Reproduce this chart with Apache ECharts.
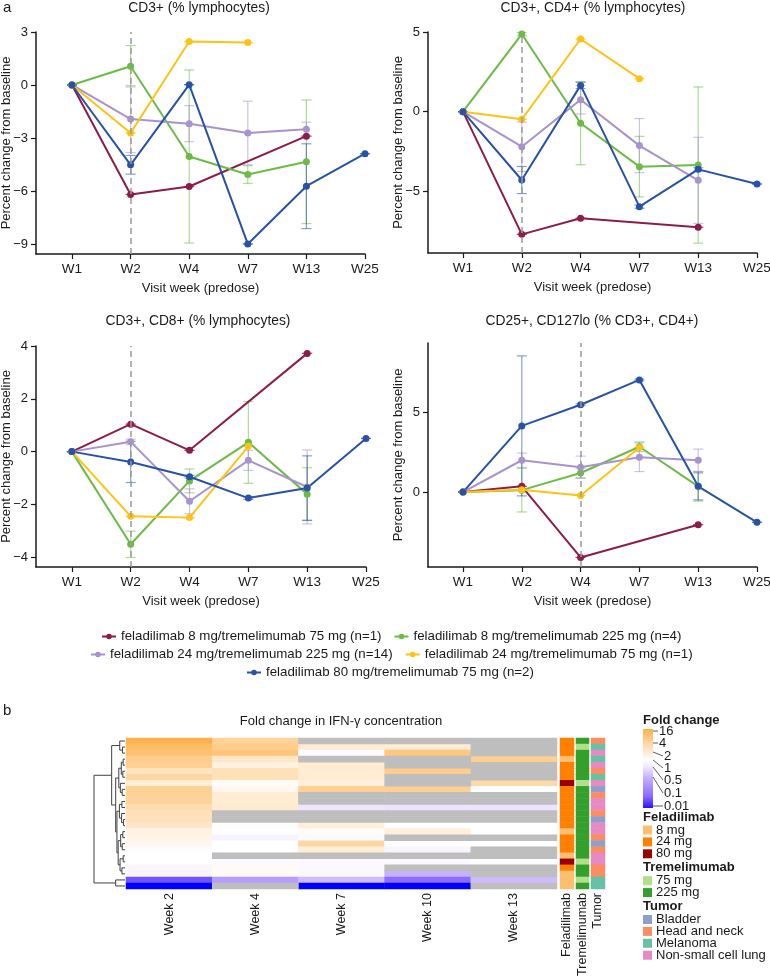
<!DOCTYPE html>
<html><head><meta charset="utf-8">
<script src="https://cdn.jsdelivr.net/npm/echarts@6/dist/echarts.min.js"></script>
<style>html,body{margin:0;padding:0;background:#fff}#c{width:770px;height:977px}</style>
</head><body><div id="c"></div>
<script>
// ---------------- DATA ----------------
const weeks = ['W1', 'W2', 'W4', 'W7', 'W13', 'W25'];
const groupNames = [
  'feladilimab 8 mg/tremelimumab 75 mg (n=1)',
  'feladilimab 8 mg/tremelimumab 225 mg (n=4)',
  'feladilimab 24 mg/tremelimumab 225 mg (n=14)',
  'feladilimab 24 mg/tremelimumab 75 mg (n=1)',
  'feladilimab 80 mg/tremelimumab 75 mg (n=2)'
];
const cd3Ticks = [-9, -6, -3, 0, 3];
const cd4Ticks = [-5, 0, 5];
const cd8Ticks = [-4, -2, 0, 2, 4];
const tregTicks = [0, 5];

// CD3+ (% lymphocytes): mean and error half-width
const cd3_f8t75 = [0, -6.2, -5.75, null, -2.9, null];
const cd3_f8t225 = [0, 1.06, -4.05, -5.07, -4.35, null];
const cd3_f24t225 = [0, -1.93, -2.19, -2.72, -2.51, null];
const cd3_f24t75 = [0, -2.72, 2.46, 2.4, null, null];
const cd3_f80t75 = [0, -4.52, 0.02, -9.0, -5.73, -3.89];
const cd3Err_f8t75 = [0, 0, 0, null, 0, null];
const cd3Err_f8t225 = [0, 1.17, 4.9, 0.5, 3.5, null];
const cd3Err_f24t225 = [0, 1.9, 1.02, 1.8, 0.4, null];
const cd3Err_f24t75 = [0, 0, 0, 0, null, null];
const cd3Err_f80t75 = [0, 0.53, 0, 0, 2.4, 0];

// CD3+, CD4+ (% lymphocytes)
const cd4_f8t75 = [0, -7.7, -6.69, null, -7.26, null];
const cd4_f8t225 = [0, 4.87, -0.73, -3.45, -3.35, null];
const cd4_f24t225 = [0, -2.2, 0.75, -2.13, -4.31, null];
const cd4_f24t75 = [0, -0.48, 4.56, 2.07, null, null];
const cd4_f80t75 = [0, -4.29, 1.65, -5.96, -3.62, -4.54];
const cd4Err_f8t75 = [0, 0, 0, null, 0, null];
const cd4Err_f8t225 = [0, 0.1, 2.6, 1.9, 4.9, null];
const cd4Err_f24t225 = [0, 1.55, 0.9, 1.7, 2.7, null];
const cd4Err_f24t75 = [0, 0, 0, 0, null, null];
const cd4Err_f80t75 = [0, 0.85, 0.2, 0.1, 0.1, 0];

// CD3+, CD8+ (% lymphocytes)
const cd8_f8t75 = [0, 1.04, 0.05, null, 3.72, null];
const cd8_f8t225 = [0, -3.51, -1.11, 0.35, -1.61, null];
const cd8_f24t225 = [0, 0.37, -1.88, -0.33, -1.34, null];
const cd8_f24t75 = [0, -2.45, -2.5, 0.2, null, null];
const cd8_f80t75 = [0, -0.39, -0.95, -1.76, -1.38, 0.5];
const cd8Err_f8t75 = [0, 0, 0, null, 0, null];
const cd8Err_f8t225 = [0, 0.5, 0.45, 1.55, 1.0, null];
const cd8Err_f24t225 = [0, 0.1, 0.47, 0.38, 1.4, null];
const cd8Err_f24t75 = [0, 0, 0, 0, null, null];
const cd8Err_f80t75 = [0, 0.78, 0.05, 0.05, 1.22, 0];

// CD25+, CD127lo (% CD3+, CD4+)
const treg_f8t75 = [0, 0.36, -4.11, null, -2.05, null];
const treg_f8t225 = [0, 0.12, 1.2, 2.85, 0.36, null];
const treg_f24t225 = [0, 2.0, 1.56, 2.19, 2.0, null];
const treg_f24t75 = [0, 0.15, -0.21, 2.8, null, null];
const treg_f80t75 = [0, 4.16, 5.49, 7.05, 0.36, -1.9];
const tregErr_f8t75 = [0, 0, 0, null, 0, null];
const tregErr_f8t225 = [0, 1.37, 0.3, 0.3, 0.93, null];
const tregErr_f24t225 = [0, 0.45, 0.7, 0.9, 0.7, null];
const tregErr_f24t75 = [0, 0, 0, 0, null, null];
const tregErr_f80t75 = [0, 4.4, 0.05, 0.05, 0.85, 0];

// Heatmap: fold change in IFN-gamma (rows top to bottom, null = not available)
const heatWeeks = ['Week 2', 'Week 4', 'Week 7', 'Week 10', 'Week 13'];
const fcWeek2 = [14, 9, 8, 5.3, 5, 2.5, 4, 1.85, 4.6, 4.6, 4.4, 3.2, 2.8, 2.7, 2.2, 1.5, 1.45, 1.3, 0.93, 1.0, 1.0, 0.78, 0.75, 0.04, 0.01];
const fcWeek4 = [4.5, 5.5, 7, 2.3, 1.6, 2.8, 2.8, 1.2, 1.25, 1.9, 1.9, 2.0, null, null, 0.92, 0.97, 0.7, 1.0, 1.0, null, 0.88, 1.2, 1.15, 0.12, null];
const fcWeek7 = [null, 1.9, 0.9, null, 1.9, 1.9, 1.9, 1.7, 4.8, null, null, 0.5, null, null, 1.7, 1.1, 0.88, 4.0, 1.8, null, 0.85, 0.85, 0.82, 0.2, 0.01];
const fcWeek10 = [null, 1.8, 6.5, null, null, 5.5, null, null, 5.0, null, null, 0.45, null, null, 1.0, 1.7, null, 1.0, 0.75, null, 0.85, null, 0.17, 0.06, 0.01];
const fcWeek13 = [null, null, null, 5.0, null, null, null, 3.5, 0.95, null, null, 0.45, null, null, 1.0, 1.0, null, 1.02, null, null, 0.92, null, null, 0.2, null];

const annotationNames = ['Feladilimab', 'Tremelimumab', 'Tumor'];
const feladilimabLevels = ['8 mg', '24 mg', '80 mg'];
const tremelimumabLevels = ['75 mg', '225 mg'];
const tumorTypes = ['Bladder', 'Head and neck', 'Melanoma', 'Non-small cell lung'];
const rowFeladilimab = ['24 mg','24 mg','24 mg','8 mg','24 mg','24 mg','24 mg','80 mg','24 mg','24 mg','24 mg','24 mg','24 mg','24 mg','24 mg','8 mg','24 mg','24 mg','24 mg','8 mg','80 mg','24 mg','8 mg','8 mg','8 mg'];
const rowTremelimumab = ['225 mg','75 mg','225 mg','225 mg','225 mg','225 mg','225 mg','75 mg','225 mg','225 mg','225 mg','225 mg','225 mg','225 mg','225 mg','225 mg','225 mg','225 mg','225 mg','225 mg','75 mg','225 mg','225 mg','75 mg','225 mg'];
const rowTumor = ['Head and neck','Melanoma','Non-small cell lung','Melanoma','Non-small cell lung','Head and neck','Melanoma','Non-small cell lung','Bladder','Head and neck','Non-small cell lung','Non-small cell lung','Head and neck','Bladder','Non-small cell lung','Non-small cell lung','Head and neck','Bladder','Head and neck','Non-small cell lung','Non-small cell lung','Head and neck','Head and neck','Melanoma','Melanoma'];
const foldTicks = ['16', '4', '2', '1', '0.5', '0.1', '0.01'];

// Row dendrogram: [height, left, right]; leaves are row indices
const dendrogram = [10,
  [4.3,
    [1.7, 0, [0.8, 1, 2]],
    [3.0,
      [2.0, [1.2, [0.6, 3, 4], [0.7, 5, 6]], [1.5, 7, [0.9, 8, 9]]],
      [2.6,
        [1.8, [1.0, 10, 11], [1.1, 12, [0.5, 13, 14]]],
        [2.2, [1.4, [0.7, 15, 16], [0.9, 17, 18]], [1.6, [0.6, 19, 20], [1.0, 21, 22]]]]]],
  [3.0, 23, 24]];

// ---------------- STYLE / BUILD ----------------
const FONT = '"Liberation Sans", Arial, Helvetica, sans-serif';
const INK = '#1a1a1a';
const groupColors = ['#8C1D4A', '#6CBB45', '#A892CF', '#FEC215', '#2752A6'];
const felColors = {'8 mg': '#FDBF6F', '24 mg': '#FF7F00', '80 mg': '#990000'};
const treColors = {'75 mg': '#B2DF8A', '225 mg': '#33A02C'};
const tumColors = {'Bladder': '#8DA0CB', 'Head and neck': '#FC8D62', 'Melanoma': '#66C2A5', 'Non-small cell lung': '#E78AC3'};

function lerp(a, b, t) { return a.map((v, i) => Math.round(v + (b[i] - v) * t)); }
const colorStops = [[-2, [0, 0, 255]], [-1.3, [128, 96, 255]], [-1, [176, 146, 255]], [-0.5, [226, 214, 255]], [0, [255, 255, 255]], [Math.log10(16), [253, 172, 66]]];
function fcColor(v) {
  let x = Math.log10(v);
  x = Math.max(colorStops[0][0], Math.min(colorStops[colorStops.length - 1][0], x));
  for (let i = 0; i < colorStops.length - 1; i++) {
    const a = colorStops[i], b = colorStops[i + 1];
    if (x >= a[0] && x <= b[0]) {
      const c = lerp(a[1], b[1], (x - a[0]) / (b[0] - a[0]));
      return `rgb(${c[0]},${c[1]},${c[2]})`;
    }
  }
  return '#fff';
}

const panels = [
  {title: 'CD3+ (% lymphocytes)', tx: 199, ty: 8, left: 36, top: 32, width: 329, height: 222, xmin: -0.614, ymin: -9.57, ymax: 3, ticks: cd3Ticks, vline: 1,
   means: [cd3_f8t75, cd3_f8t225, cd3_f24t225, cd3_f24t75, cd3_f80t75], errs: [cd3Err_f8t75, cd3Err_f8t225, cd3Err_f24t225, cd3Err_f24t75, cd3Err_f80t75]},
  {title: 'CD3+, CD4+ (% lymphocytes)', tx: 593, ty: 8, left: 428, top: 32, width: 329, height: 221, xmin: -0.595, ymin: -8.87, ymax: 5, ticks: cd4Ticks, vline: 1,
   means: [cd4_f8t75, cd4_f8t225, cd4_f24t225, cd4_f24t75, cd4_f80t75], errs: [cd4Err_f8t75, cd4Err_f8t225, cd4Err_f24t225, cd4Err_f24t75, cd4Err_f80t75]},
  {title: 'CD3+, CD8+ (% lymphocytes)', tx: 198, ty: 321, left: 36, top: 346, width: 330, height: 221, xmin: -0.61, ymin: -4.37, ymax: 4, ticks: cd8Ticks, vline: 1,
   means: [cd8_f8t75, cd8_f8t225, cd8_f24t225, cd8_f24t75, cd8_f80t75], errs: [cd8Err_f8t75, cd8Err_f8t225, cd8Err_f24t225, cd8Err_f24t75, cd8Err_f80t75]},
  {title: 'CD25+, CD127lo (% CD3+, CD4+)', tx: 592, ty: 321, left: 428, top: 343, width: 329, height: 224, xmin: -0.595, ymin: -4.71, ymax: 9.37, ticks: tregTicks, vline: 2,
   means: [treg_f8t75, treg_f8t225, treg_f24t225, treg_f24t75, treg_f80t75], errs: [tregErr_f8t75, tregErr_f8t225, tregErr_f24t225, tregErr_f24t75, tregErr_f80t75]}
];

const grids = [], xAxes = [], yAxes = [], series = [], graphics = [];
const txt = (text, x, y, opt = {}) => ({type: 'text', x, y, silent: true, style: Object.assign({text, font: `${opt.bold ? 'bold ' : ''}${opt.size || 13}px ${FONT}`, fill: INK,
  textAlign: opt.align || 'center', textVerticalAlign: 'middle', align: opt.align || 'center', verticalAlign: 'middle'}, opt.style || {})});

panels.forEach((p, pi) => {
  grids.push({left: p.left, top: p.top, width: p.width, height: p.height, containLabel: false, outerBoundsMode: 'none'});
  xAxes.push({type: 'value', gridIndex: pi, min: p.xmin, max: 5,
    axisLine: {show: true, onZero: false, lineStyle: {color: INK, width: 1.5}},
    axisTick: {show: true, length: 5, customValues: [0, 1, 2, 3, 4, 5], lineStyle: {color: INK, width: 1.2}},
    axisLabel: {customValues: [0, 1, 2, 3, 4, 5], formatter: v => weeks[Math.round(v)], fontSize: 13.5, color: INK, margin: 8, fontFamily: FONT},
    splitLine: {show: false},
    name: 'Visit week (predose)', nameLocation: 'middle', nameGap: 28, nameMoveOverlap: false, nameTextStyle: {fontSize: 13, color: INK, fontFamily: FONT}});
  yAxes.push({type: 'value', gridIndex: pi, min: p.ymin, max: p.ymax,
    axisLine: {show: true, onZero: false, lineStyle: {color: INK, width: 1.5}},
    axisTick: {show: true, length: 5, customValues: p.ticks, lineStyle: {color: INK, width: 1.2}},
    axisLabel: {customValues: p.ticks, formatter: v => String(v).replace('-', '\u2212'), fontSize: 13, color: INK, margin: 8, fontFamily: FONT},
    splitLine: {show: false},
    name: 'Percent change from baseline', nameLocation: 'middle', nameGap: 23, nameMoveOverlap: false, nameTextStyle: {fontSize: 13, color: INK, fontFamily: FONT}});
  graphics.push(txt(p.title, p.tx, p.ty, {size: 13.8}));
  p.means.forEach((vals, si) => {
    const col = groupColors[si];
    const errVals = p.errs[si];
    series.push({type: 'custom', name: 'err' + pi + '_' + si, xAxisIndex: pi, yAxisIndex: pi, z: 2, silent: true,
      data: vals.map((v, i) => [i, v, errVals[i]]).filter(d => d[1] !== null),
      encode: {x: 0, y: 1},
      renderItem: (params, api) => {
        const x = api.value(0), m = api.value(1), e = api.value(2) || 0;
        const t = api.coord([x, m + e]), b = api.coord([x, m - e]);
        const st = {stroke: col, lineWidth: 1.2, opacity: 0.55};
        return {type: 'group', children: [
          {type: 'line', shape: {x1: t[0], y1: t[1], x2: b[0], y2: b[1]}, style: st},
          {type: 'line', shape: {x1: t[0] - 5, y1: t[1], x2: t[0] + 5, y2: t[1]}, style: st},
          {type: 'line', shape: {x1: b[0] - 5, y1: b[1], x2: b[0] + 5, y2: b[1]}, style: st}
        ]};
      }});
    const s = {type: 'line', name: groupNames[si], xAxisIndex: pi, yAxisIndex: pi, z: 3,
      data: vals.map((v, i) => [i, v]).filter(d => d[1] !== null),
      symbol: 'circle', symbolSize: 7, showSymbol: true,
      lineStyle: {color: col, width: 2}, itemStyle: {color: col}, emphasis: {disabled: true}};
    if (si === 0) {
      s.markLine = {silent: true, symbol: ['none', 'none'], label: {show: false}, animation: false,
        lineStyle: {type: [6, 4], color: '#9a9a9a', width: 1.5}, data: [{xAxis: p.vline}]};
    }
    series.push(s);
  });
});

// Dendrogram grid (4)
grids.push({left: 94, top: 738, width: 31, height: 151, outerBoundsMode: 'none'});
xAxes.push({type: 'value', gridIndex: 4, min: 0, max: 10, inverse: true, show: false});
yAxes.push({type: 'value', gridIndex: 4, min: -0.5, max: 24.5, inverse: true, show: false});
const dendroSegs = [];
(function walk(node) {
  if (typeof node === 'number') return {y: node, h: 0};
  const L = walk(node[1]), R = walk(node[2]), h = node[0];
  dendroSegs.push({coords: [[L.h, L.y], [h, L.y], [h, R.y], [R.h, R.y]]});
  return {y: (L.y + R.y) / 2, h};
})(dendrogram);
series.push({type: 'lines', coordinateSystem: 'cartesian2d', xAxisIndex: 4, yAxisIndex: 4, polyline: true, silent: true,
  data: dendroSegs, lineStyle: {color: '#404040', width: 1, opacity: 1}});

// Heatmap grid (5)
const rowIds = rowTumor.map((_, i) => String(i + 1));
grids.push({left: 126, top: 738, width: 431, height: 151, outerBoundsMode: 'none'});
const catLabel = {rotate: 90, fontSize: 12.5, color: INK, margin: 4, fontFamily: FONT, interval: 0};
xAxes.push({type: 'category', gridIndex: 5, data: heatWeeks, axisLine: {show: false}, axisTick: {show: false}, axisLabel: catLabel, splitLine: {show: false}});
yAxes.push({type: 'category', gridIndex: 5, data: rowIds, inverse: true, show: false});
const fcCols = [fcWeek2, fcWeek4, fcWeek7, fcWeek10, fcWeek13];
const hmData = [], naData = [];
fcCols.forEach((col, c) => col.forEach((v, r) => {
  if (v === null) naData.push([c, r, 1]);
  else hmData.push({value: [c, r, v], itemStyle: {color: fcColor(v)}});
}));
series.push({type: 'heatmap', xAxisIndex: 5, yAxisIndex: 5, data: hmData, silent: true, emphasis: {disabled: true}, progressive: 0});
series.push({type: 'heatmap', xAxisIndex: 5, yAxisIndex: 5, data: naData, silent: true, emphasis: {disabled: true}, itemStyle: {color: '#BEBEBE'}, progressive: 0});

// Annotation grids (6,7,8)
const annGeom = [[560, 14], [576, 13], [591, 14]];
const annRows = [rowFeladilimab, rowTremelimumab, rowTumor];
const annColors = [felColors, treColors, tumColors];
annGeom.forEach((g, k) => {
  const gi = 6 + k;
  grids.push({left: g[0], top: 738, width: g[1], height: 151, outerBoundsMode: 'none'});
  xAxes.push({type: 'category', gridIndex: gi, data: [annotationNames[k]], axisLine: {show: false}, axisTick: {show: false}, axisLabel: catLabel});
  yAxes.push({type: 'category', gridIndex: gi, data: rowIds, inverse: true, show: false});
  series.push({type: 'heatmap', xAxisIndex: gi, yAxisIndex: gi, silent: true, emphasis: {disabled: true}, progressive: 0,
    data: annRows[k].map((lv, r) => ({value: [0, r, 1], itemStyle: {color: annColors[k][lv]}}))});
});

// Panel letters and heatmap title
graphics.push(txt('a', 3, 8, {size: 15, align: 'left'}));
graphics.push(txt('b', 3, 711, {size: 15, align: 'left'}));
graphics.push(txt('Fold change in IFN-\u03b3 concentration', 341, 721));

// Right-side heatmap legend
const LX = 643;
graphics.push(txt('Fold change', LX, 720, {bold: true, align: 'left'}));
graphics.push({type: 'rect', silent: true, shape: {x: LX, y: 729, width: 10, height: 79},
  style: {fill: new echarts.graphic.LinearGradient(0, 0, 0, 1, [
    {offset: 0, color: '#FDAF48'}, {offset: 0.18, color: '#FED6A4'}, {offset: 0.29, color: '#FFEAD0'},
    {offset: 0.39, color: '#FFFFFF'}, {offset: 0.48, color: '#EEE7FF'}, {offset: 0.61, color: '#C9B3FF'},
    {offset: 0.85, color: '#8C6CFF'}, {offset: 1, color: '#2A10FF'}])}});
const barTickY = [731, 743, 752, 760, 767, 777, 806];
const labelY = [731, 743, 756, 768, 780, 793, 806];
foldTicks.forEach((t, i) => {
  const lx = i < 2 ? 658 : 663;
  graphics.push({type: 'polyline', silent: true, shape: {points: [[LX + 10, barTickY[i]], [lx, labelY[i]]]}, style: {stroke: '#333', lineWidth: 0.8, fill: null}});
  graphics.push(txt(t, lx + 1, labelY[i], {align: 'left'}));
});
let ly = 817;
[[ 'Feladilimab', feladilimabLevels, felColors], ['Tremelimumab', tremelimumabLevels, treColors], ['Tumor', tumorTypes, tumColors]].forEach((blk, bi) => {
  graphics.push(txt(blk[0], LX, ly, {bold: true, align: 'left'}));
  ly += 13;
  blk[1].forEach(lv => {
    graphics.push({type: 'rect', silent: true, shape: {x: LX, y: ly - 4.5, width: 9, height: 9}, style: {fill: blk[2][lv]}});
    graphics.push(txt(lv, LX + 13, ly, {align: 'left'}));
    ly += 11.9;
  });
  ly += 2;
});

const legendBase = {orient: 'horizontal', padding: 0, itemGap: 12, itemWidth: 14, itemHeight: 7,
  textStyle: {fontSize: 13.3, color: INK, fontFamily: FONT}, selectedMode: false};
const option = {
  animation: false,
  backgroundColor: '#fff',
  textStyle: {fontFamily: FONT},
  grid: grids, xAxis: xAxes, yAxis: yAxes, series,
  legend: [
    Object.assign({}, legendBase, {data: [groupNames[0], groupNames[1]], left: 101, top: 630}),
    Object.assign({}, legendBase, {data: [groupNames[2], groupNames[3]], left: 90, top: 648}),
    Object.assign({}, legendBase, {data: [groupNames[4]], left: 246, top: 666})
  ],
  graphic: {elements: graphics}
};
const chart = echarts.init(document.getElementById('c'), null, {renderer: 'canvas'});
chart.setOption(option);
</script></body></html>
